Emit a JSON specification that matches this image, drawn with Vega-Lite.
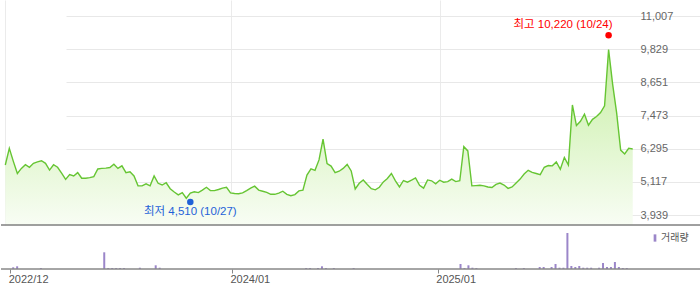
{
  "$schema": "https://vega.github.io/schema/vega-lite/v6.json",
  "padding": 0,
  "spacing": 0,
  "background": "white",
  "config": {"view": {"stroke": null}, "font": "Liberation Sans, Noto Sans CJK KR"},
  "resolve": {"scale": {"x": "independent", "y": "independent", "color": "independent"}, "axis": {"x": "independent", "y": "independent"}, "legend": {"color": "independent"}},
  "datasets": {
    "price": [
      {"date":"2022-12-09","close":5720,"volume":0},
      {"date":"2022-12-16","close":6310,"volume":1700},
      {"date":"2022-12-23","close":5850,"volume":2700},
      {"date":"2022-12-30","close":5420,"volume":0},
      {"date":"2023-01-06","close":5600,"volume":0},
      {"date":"2023-01-13","close":5730,"volume":0},
      {"date":"2023-01-20","close":5640,"volume":0},
      {"date":"2023-01-27","close":5780,"volume":0},
      {"date":"2023-02-03","close":5830,"volume":1000},
      {"date":"2023-02-10","close":5870,"volume":0},
      {"date":"2023-02-17","close":5780,"volume":0},
      {"date":"2023-02-24","close":5540,"volume":0},
      {"date":"2023-03-03","close":5730,"volume":0},
      {"date":"2023-03-10","close":5640,"volume":0},
      {"date":"2023-03-17","close":5430,"volume":0},
      {"date":"2023-03-24","close":5210,"volume":0},
      {"date":"2023-03-31","close":5380,"volume":0},
      {"date":"2023-04-07","close":5330,"volume":0},
      {"date":"2023-04-14","close":5450,"volume":0},
      {"date":"2023-04-21","close":5250,"volume":0},
      {"date":"2023-04-28","close":5250,"volume":0},
      {"date":"2023-05-05","close":5270,"volume":0},
      {"date":"2023-05-12","close":5310,"volume":0},
      {"date":"2023-05-19","close":5580,"volume":0},
      {"date":"2023-05-26","close":5600,"volume":16700},
      {"date":"2023-06-02","close":5610,"volume":1000},
      {"date":"2023-06-09","close":5630,"volume":1000},
      {"date":"2023-06-16","close":5750,"volume":1000},
      {"date":"2023-06-23","close":5600,"volume":1000},
      {"date":"2023-06-30","close":5690,"volume":1000},
      {"date":"2023-07-07","close":5450,"volume":0},
      {"date":"2023-07-14","close":5480,"volume":0},
      {"date":"2023-07-21","close":5330,"volume":0},
      {"date":"2023-07-28","close":4980,"volume":1300},
      {"date":"2023-08-04","close":4980,"volume":0},
      {"date":"2023-08-11","close":5050,"volume":0},
      {"date":"2023-08-18","close":4980,"volume":0},
      {"date":"2023-08-25","close":5330,"volume":3700},
      {"date":"2023-09-01","close":5070,"volume":1300},
      {"date":"2023-09-08","close":5010,"volume":0},
      {"date":"2023-09-15","close":5090,"volume":0},
      {"date":"2023-09-22","close":4880,"volume":0},
      {"date":"2023-09-29","close":4760,"volume":0},
      {"date":"2023-10-06","close":4660,"volume":0},
      {"date":"2023-10-13","close":4740,"volume":0},
      {"date":"2023-10-20","close":4540,"volume":0},
      {"date":"2023-10-27","close":4720,"volume":0},
      {"date":"2023-11-03","close":4770,"volume":0},
      {"date":"2023-11-10","close":4740,"volume":0},
      {"date":"2023-11-17","close":4830,"volume":0},
      {"date":"2023-11-24","close":4930,"volume":0},
      {"date":"2023-12-01","close":4810,"volume":0},
      {"date":"2023-12-08","close":4810,"volume":0},
      {"date":"2023-12-15","close":4850,"volume":0},
      {"date":"2023-12-22","close":4900,"volume":0},
      {"date":"2023-12-29","close":4930,"volume":0},
      {"date":"2024-01-05","close":4730,"volume":0},
      {"date":"2024-01-12","close":4710,"volume":0},
      {"date":"2024-01-19","close":4700,"volume":0},
      {"date":"2024-01-26","close":4730,"volume":0},
      {"date":"2024-02-02","close":4810,"volume":0},
      {"date":"2024-02-09","close":4900,"volume":0},
      {"date":"2024-02-16","close":4970,"volume":0},
      {"date":"2024-02-23","close":4830,"volume":0},
      {"date":"2024-03-01","close":4790,"volume":0},
      {"date":"2024-03-08","close":4750,"volume":0},
      {"date":"2024-03-15","close":4680,"volume":0},
      {"date":"2024-03-22","close":4680,"volume":0},
      {"date":"2024-03-29","close":4720,"volume":0},
      {"date":"2024-04-05","close":4790,"volume":0},
      {"date":"2024-04-12","close":4680,"volume":0},
      {"date":"2024-04-19","close":4630,"volume":0},
      {"date":"2024-04-26","close":4670,"volume":0},
      {"date":"2024-05-03","close":4800,"volume":0},
      {"date":"2024-05-10","close":4830,"volume":0},
      {"date":"2024-05-17","close":5360,"volume":1000},
      {"date":"2024-05-24","close":5580,"volume":1000},
      {"date":"2024-05-31","close":5530,"volume":0},
      {"date":"2024-06-07","close":5900,"volume":1000},
      {"date":"2024-06-14","close":6640,"volume":2700},
      {"date":"2024-06-21","close":5770,"volume":1000},
      {"date":"2024-06-28","close":5680,"volume":0},
      {"date":"2024-07-05","close":5450,"volume":1000},
      {"date":"2024-07-12","close":5500,"volume":0},
      {"date":"2024-07-19","close":5600,"volume":0},
      {"date":"2024-07-26","close":5740,"volume":0},
      {"date":"2024-08-02","close":5510,"volume":0},
      {"date":"2024-08-09","close":4870,"volume":1000},
      {"date":"2024-08-16","close":5070,"volume":0},
      {"date":"2024-08-23","close":5190,"volume":0},
      {"date":"2024-08-30","close":5030,"volume":0},
      {"date":"2024-09-06","close":4880,"volume":0},
      {"date":"2024-09-13","close":4840,"volume":0},
      {"date":"2024-09-20","close":4930,"volume":0},
      {"date":"2024-09-27","close":5120,"volume":0},
      {"date":"2024-10-04","close":5240,"volume":0},
      {"date":"2024-10-11","close":5420,"volume":0},
      {"date":"2024-10-18","close":5160,"volume":0},
      {"date":"2024-10-25","close":4940,"volume":0},
      {"date":"2024-11-01","close":5170,"volume":0},
      {"date":"2024-11-08","close":5110,"volume":0},
      {"date":"2024-11-15","close":5180,"volume":0},
      {"date":"2024-11-22","close":5260,"volume":0},
      {"date":"2024-11-29","close":5000,"volume":0},
      {"date":"2024-12-06","close":4900,"volume":0},
      {"date":"2024-12-13","close":5190,"volume":0},
      {"date":"2024-12-20","close":5160,"volume":0},
      {"date":"2024-12-27","close":5050,"volume":0},
      {"date":"2025-01-03","close":5180,"volume":0},
      {"date":"2025-01-10","close":5110,"volume":0},
      {"date":"2025-01-17","close":5130,"volume":0},
      {"date":"2025-01-24","close":5220,"volume":0},
      {"date":"2025-01-31","close":5130,"volume":0},
      {"date":"2025-02-07","close":5160,"volume":0},
      {"date":"2025-02-14","close":6370,"volume":5000},
      {"date":"2025-02-21","close":6220,"volume":1000},
      {"date":"2025-02-28","close":4980,"volume":3700},
      {"date":"2025-03-07","close":4990,"volume":1300},
      {"date":"2025-03-14","close":5000,"volume":1000},
      {"date":"2025-03-21","close":4980,"volume":0},
      {"date":"2025-03-28","close":4940,"volume":0},
      {"date":"2025-04-04","close":4920,"volume":0},
      {"date":"2025-04-11","close":5030,"volume":0},
      {"date":"2025-04-18","close":5080,"volume":0},
      {"date":"2025-04-25","close":5010,"volume":0},
      {"date":"2025-05-02","close":4890,"volume":0},
      {"date":"2025-05-09","close":4940,"volume":0},
      {"date":"2025-05-16","close":5080,"volume":0},
      {"date":"2025-05-23","close":5220,"volume":1000},
      {"date":"2025-05-30","close":5400,"volume":0},
      {"date":"2025-06-06","close":5530,"volume":1000},
      {"date":"2025-06-13","close":5460,"volume":0},
      {"date":"2025-06-20","close":5420,"volume":0},
      {"date":"2025-06-27","close":5380,"volume":0},
      {"date":"2025-07-04","close":5640,"volume":2000},
      {"date":"2025-07-11","close":5700,"volume":2000},
      {"date":"2025-07-18","close":5690,"volume":0},
      {"date":"2025-07-25","close":5830,"volume":2000},
      {"date":"2025-08-01","close":5570,"volume":5000},
      {"date":"2025-08-08","close":5990,"volume":1300},
      {"date":"2025-08-15","close":5720,"volume":1300},
      {"date":"2025-08-22","close":7850,"volume":36000},
      {"date":"2025-08-29","close":7120,"volume":3000},
      {"date":"2025-09-05","close":7270,"volume":2000},
      {"date":"2025-09-12","close":7520,"volume":3000},
      {"date":"2025-09-19","close":7130,"volume":1300},
      {"date":"2025-09-26","close":7340,"volume":1300},
      {"date":"2025-10-03","close":7440,"volume":1300},
      {"date":"2025-10-10","close":7580,"volume":0},
      {"date":"2025-10-17","close":7820,"volume":1300},
      {"date":"2025-10-24","close":9820,"volume":6000},
      {"date":"2025-10-31","close":8590,"volume":2000},
      {"date":"2025-11-07","close":7570,"volume":2000},
      {"date":"2025-11-14","close":6250,"volume":7000},
      {"date":"2025-11-21","close":6110,"volume":2000},
      {"date":"2025-11-28","close":6310,"volume":1000},
      {"date":"2025-12-05","close":6290,"volume":1000}
    ],
    "marks": [
      {"date":"2025-10-24","price":10220,"kind":"high","label":"최고 10,220 (10/24)"},
      {"date":"2023-10-27","price":4510,"kind":"low","label":"최저 4,510 (10/27)"}
    ]
  },
  "vconcat": [
    {
      "width": 700,
      "height": 225,
      "layer": [
        {
          "data": {"name": "price"},
          "mark": {"type": "area", "color": {"x1": 0, "y1": 0, "x2": 0, "y2": 1, "gradient": "linear", "stops": [{"offset": 0, "color": "#c6eea2"}, {"offset": 1, "color": "#f8fdf4"}]}},
          "encoding": {
            "x": {"field": "date", "type": "temporal",
              "scale": {"type": "utc", "nice": false, "domain": [{"year": 2022, "month": 12, "date": 1, "hours": 12, "minutes": 23, "utc": true}, {"year": 2025, "month": 12, "date": 10, "hours": 16, "minutes": 34, "utc": true}], "range": [0, 635]},
              "axis": {"values": [{"year": 2022, "month": 12, "date": 9, "utc": true}, {"year": 2024, "month": 1, "date": 5, "utc": true}, {"year": 2025, "month": 1, "date": 3, "utc": true}], "tickCount": 10, "grid": true, "gridColor": "#ebebeb", "labels": false, "ticks": false, "domain": false, "title": null}},
            "y": {"field": "close", "type": "quantitative", "scale": {"domain": [3591, 11575], "nice": false, "zero": false},
              "axis": {"orient": "right", "values": [3939, 5117, 6295, 7473, 8651, 9829, 11007], "tickCount": 10, "labelExpr": "format(datum.value, ',d')", "labelOverlap": false, "labelPadding": -61, "labelAlign": "left", "labelBaseline": "middle", "ticks": false, "domain": false, "grid": true, "gridColor": "#e8e8e8", "labelColor": "#666666", "labelFontSize": 11, "title": null}},
            "y2": {"datum": 3591}
          }
        },
        {
          "data": {"name": "price"},
          "mark": {"type": "line", "color": "#66c533", "strokeWidth": 1.4},
          "encoding": {
            "x": {"field": "date", "type": "temporal"},
            "y": {"field": "close", "type": "quantitative"}
          }
        },
        {
          "data": {"name": "marks"},
          "mark": {"type": "rule", "color": "#808080", "strokeWidth": 1},
          "encoding": {"y": {"datum": 3591}}
        },
        {
          "data": {"name": "marks"},
          "transform": [{"filter": "datum.kind == 'high'"}],
          "mark": {"type": "point", "filled": true, "size": 42, "color": "#ff0000", "opacity": 1, "yOffset": -3},
          "encoding": {"x": {"field": "date", "type": "temporal"}, "y": {"field": "price", "type": "quantitative"}}
        },
        {
          "data": {"name": "marks"},
          "transform": [{"filter": "datum.kind == 'high'"}],
          "mark": {"type": "text", "align": "right", "baseline": "middle", "dx": 4, "dy": -13, "color": "#ff0000", "fontSize": 11.5},
          "encoding": {"x": {"field": "date", "type": "temporal"}, "y": {"field": "price", "type": "quantitative"}, "text": {"field": "label"}}
        },
        {
          "data": {"name": "marks"},
          "transform": [{"filter": "datum.kind == 'low'"}],
          "mark": {"type": "point", "filled": true, "size": 42, "color": "#1f62d8", "opacity": 1, "yOffset": 3},
          "encoding": {"x": {"field": "date", "type": "temporal"}, "y": {"field": "price", "type": "quantitative"}}
        },
        {
          "data": {"name": "marks"},
          "transform": [{"filter": "datum.kind == 'low'"}],
          "mark": {"type": "text", "align": "center", "baseline": "middle", "dx": 0, "dy": 13, "color": "#1f62d8", "fontSize": 11.5},
          "encoding": {"x": {"field": "date", "type": "temporal"}, "y": {"field": "price", "type": "quantitative"}, "text": {"field": "label"}}
        }
      ]
    },
    {
      "width": 700,
      "height": 43,
      "layer": [
        {
          "data": {"name": "price"},
          "mark": {"type": "bar", "width": 2, "xOffset": -1},
          "encoding": {
            "x": {"field": "date", "type": "temporal",
              "scale": {"type": "utc", "nice": false, "domain": [{"year": 2022, "month": 12, "date": 1, "hours": 12, "minutes": 23, "utc": true}, {"year": 2025, "month": 12, "date": 10, "hours": 16, "minutes": 34, "utc": true}], "range": [0, 635]},
              "axis": {"values": [{"year": 2022, "month": 12, "date": 9, "utc": true}, {"year": 2024, "month": 1, "date": 5, "utc": true}, {"year": 2025, "month": 1, "date": 3, "utc": true}], "tickCount": 10, "labelExpr": "utcFormat(datum.value, '%Y/%m')", "labelAlign": "left", "labelFlush": false, "labelOverlap": false, "labelPadding": 0, "labelOffset": -2, "tickSize": 4, "tickColor": "#888888", "domain": false, "grid": false, "labelColor": "#555555", "labelFontSize": 11, "title": null}},
            "y": {"field": "volume", "type": "quantitative", "scale": {"domain": [0, 43000], "nice": false}, "axis": null},
            "color": {"datum": "거래량", "scale": {"range": ["#9b86c9"]},
              "legend": {"title": null, "orient": "none", "legendX": 649, "legendY": 7, "symbolType": "M-0.37,-1H0.37V1H-0.37Z", "symbolSize": 53, "symbolStrokeWidth": 0, "labelFontSize": 10, "labelColor": "#555555", "labelOffset": 1, "padding": 0}}
          }
        },
        {
          "data": {"name": "marks"},
          "mark": {"type": "rule", "color": "#888888", "strokeWidth": 1},
          "encoding": {"y": {"datum": 0}}
        }
      ]
    }
  ]
}
